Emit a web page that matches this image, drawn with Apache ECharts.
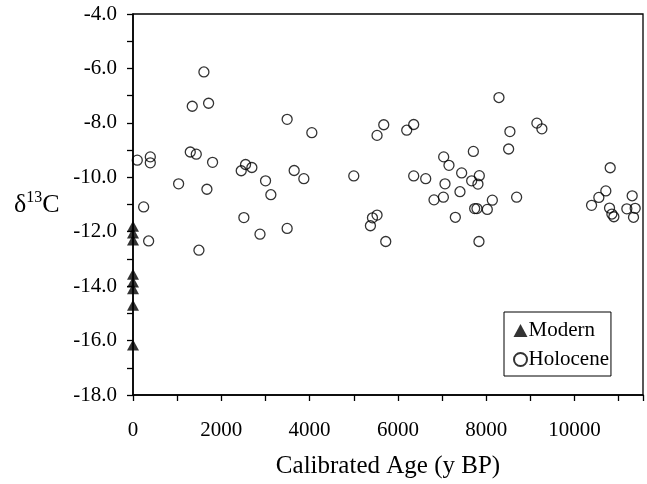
<!DOCTYPE html>
<html>
<head>
<meta charset="utf-8">
<script src="https://cdn.jsdelivr.net/npm/echarts@6/dist/echarts.min.js"></script>
<style>html,body{margin:0;padding:0;background:#fff;}#c{width:647px;height:484px;}</style>
</head>
<body>
<div id="c"></div>
<script>
const modernAge = [0, 0, 0, 0, 0, 0, 0, 0];
const modernD13C = [-11.8, -12.05, -12.3, -13.56, -13.85, -14.1, -14.7, -16.16];

const holoceneAge = [97, 392, 392, 241, 354, 1033, 1297, 1433, 1342, 1606, 1712, 1802, 1674, 1493,
  2451, 2549, 2692, 2511, 2876, 3002, 3122, 3491, 4050, 3650, 3869, 3491, 5000, 5679, 5527, 5527,
  5423, 5377, 5724, 6357, 6199, 8288, 8536, 8507, 7036, 7156, 7708, 6357, 6629, 7443, 7843, 7670,
  7812, 7066, 7405, 7029, 6817, 8138, 7738, 7790, 8024, 7300, 7835, 8688, 9147, 9260, 10807, 10708,
  10550, 10385, 11305, 10792, 10845, 10890, 11184, 11373, 11335];
const holoceneD13C = [-9.37, -9.25, -9.47, -11.09, -12.34, -10.24, -9.07, -9.15, -7.39, -6.13, -7.28, -9.45, -10.44, -12.68,
  -9.76, -9.53, -9.64, -11.48, -12.09, -10.13, -10.64, -7.87, -8.36, -9.75, -10.05, -11.88, -9.95, -8.07, -8.46, -11.39,
  -11.49, -11.78, -12.36, -8.06, -8.27, -7.07, -8.32, -8.96, -9.25, -9.56, -9.05, -9.95, -10.05, -9.84, -9.94, -10.13,
  -10.25, -10.24, -10.53, -10.73, -10.83, -10.84, -11.15, -11.15, -11.18, -11.47, -12.36, -10.73, -8.01, -8.22, -9.65, -10.50,
  -10.74, -11.03, -10.68, -11.13, -11.35, -11.45, -11.16, -11.14, -11.47];

const xLabelStep = 2000;
const yLabelStep = 2;

const FONT = 'Liberation Serif';
const chart = echarts.init(document.getElementById('c'), null, {renderer: 'canvas'});
const zip = (a, b) => a.map((v, i) => [v, b[i]]);

chart.setOption({
  animation: false,
  backgroundColor: '#fff',
  textStyle: {fontFamily: FONT, color: '#000'},
  grid: {left: 133, right: 4, top: 14, bottom: 86, show: true, borderColor: '#000', borderWidth: 1.3, backgroundColor: 'transparent'},
  xAxis: {
    type: 'value', min: 0, max: 11550, interval: 1000,
    name: 'Calibrated Age (y BP)', nameLocation: 'middle', nameGap: 59,
    nameTextStyle: {fontFamily: FONT, fontSize: 25, color: '#000'},
    axisLine: {show: true, lineStyle: {color: '#000', width: 1.6}},
    axisTick: {show: true, inside: false, length: 6, lineStyle: {color: '#000', width: 1.3}},
    axisLabel: {fontFamily: FONT, fontSize: 21, color: '#000', margin: 25,
      formatter: v => (v % xLabelStep === 0 ? String(v) : '')},
    splitLine: {show: false}
  },
  yAxis: {
    type: 'value', min: -18, max: -4, interval: 1,
    axisLine: {show: true, lineStyle: {color: '#000', width: 1.6}},
    axisTick: {show: true, inside: false, length: 6, lineStyle: {color: '#000', width: 1.3}},
    axisLabel: {fontFamily: FONT, fontSize: 21, color: '#000', margin: 16,
      formatter: v => (Math.abs(v % yLabelStep) === 0 ? v.toFixed(1) : '')},
    splitLine: {show: false}
  },
  legend: {
    orient: 'vertical', left: 504, top: 312,
    padding: [8, 2, 6, 9], itemGap: 8, itemWidth: 14, itemHeight: 13,
    backgroundColor: '#fff', borderColor: '#000', borderWidth: 1, borderRadius: 0,
    textStyle: {fontFamily: FONT, fontSize: 21, color: '#000', padding: [0, 0, 0, -4]},
    data: ['Modern', 'Holocene']
  },
  graphic: [{
    type: 'text', left: 14, top: 190,
    style: {
      text: '{a|δ}{b|13}{a|C}',
      rich: {
        a: {fontFamily: FONT, fontSize: 26, fill: '#000', lineHeight: 30},
        b: {fontFamily: FONT, fontSize: 16, fill: '#000', verticalAlign: 'top', lineHeight: 30, padding: [0, 0, 10, 0]}
      }
    }
  }],
  series: [
    {
      name: 'Holocene', type: 'scatter', symbol: 'circle', symbolSize: 10,
      itemStyle: {color: 'rgba(255,255,255,0)', borderColor: '#000', borderWidth: 1.3},
      data: zip(holoceneAge, holoceneD13C), z: 3
    },
    {
      name: 'Modern', type: 'scatter', symbol: 'triangle', symbolSize: [12, 11],
      itemStyle: {color: '#000'},
      data: zip(modernAge, modernD13C), z: 4, clip: false
    }
  ]
});
</script>
</body>
</html>
